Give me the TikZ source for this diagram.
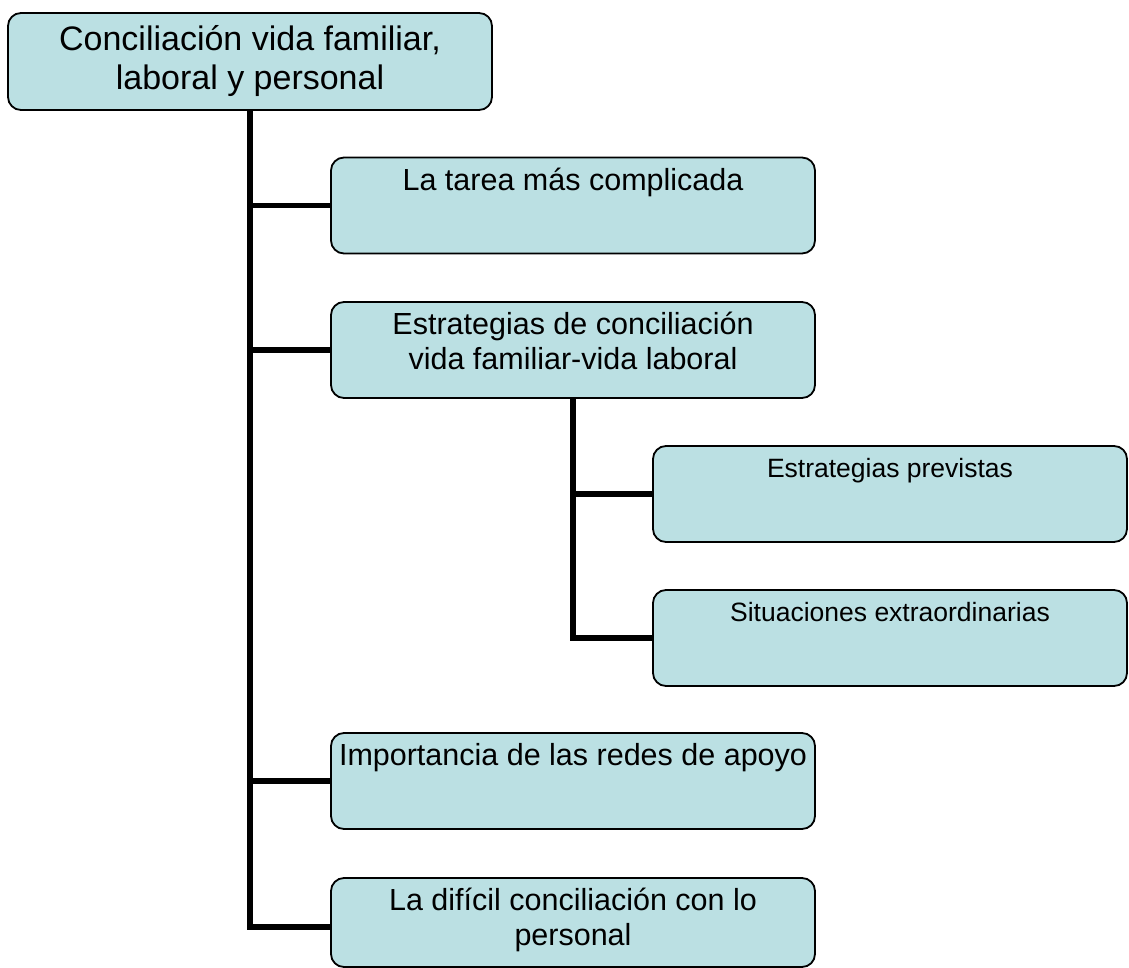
\documentclass[tikz,border=0pt]{standalone}
\usepackage{fontspec}
\setmainfont{Liberation Sans}
\definecolor{boxfill}{RGB}{187,224,227}
\begin{document}
\begin{tikzpicture}[x=1pt,y=-1pt,
  box/.style={draw=black, line width=1.8pt, fill=boxfill, rounded corners=13pt, inner sep=0pt, minimum height=96pt},
  wide/.style={box, minimum width=484pt},
  narrow/.style={box, minimum width=474pt},
  bigtxt/.style={font=\fontsize{30.5}{34.5}\selectfont, align=center, inner sep=0pt, anchor=north, yshift=-11pt},
  smalltxt/.style={font=\fontsize{26.5}{30}\selectfont, align=center, inner sep=0pt, anchor=north, yshift=-12.5pt},
  conn/.style={line width=5.3pt}]
\useasboundingbox (0,0) rectangle (1129,968);
\node[wide, minimum height=97pt, font=\fontsize{34}{39}\selectfont, align=center] (root) at (250,61.5) {Conciliación vida familiar,\\laboral y personal};
\node[wide, label={[bigtxt]north:La tarea más complicada}] (b1) at (573,205.5) {};
\node[wide, label={[bigtxt]north:{Estrategias de conciliación\\vida familiar-vida laboral}}] (b2) at (573,350) {};
\node[narrow, label={[smalltxt]north:Estrategias previstas}] (b3) at (890,494) {};
\node[narrow, label={[smalltxt]north:Situaciones extraordinarias}] (b4) at (890,638) {};
\node[wide, label={[bigtxt]north:Importancia de las redes de apoyo}] (b5) at (573,781) {};
\node[wide, minimum height=89pt, label={[bigtxt]north:{La difícil conciliación con lo\\personal}}] (b6) at (573,922.5) {};
\coordinate (b6in) at ([yshift=-4.5pt]b6.west);
\draw[conn] (root.south) |- (b6in);
\foreach \n in {b1,b2,b5} \draw[conn] (root.south |- \n.west) -- (\n.west);
\draw[conn] (b2.south) |- (b4.west);
\draw[conn] (b2.south |- b3.west) -- (b3.west);
\end{tikzpicture}
\end{document}
